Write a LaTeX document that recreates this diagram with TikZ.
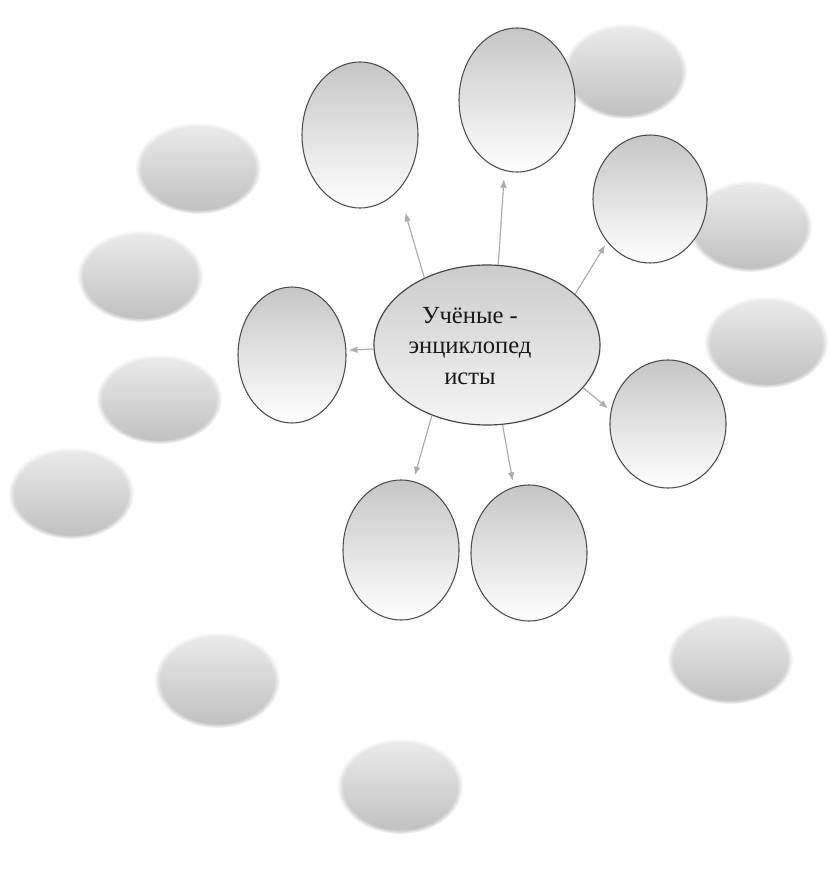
\documentclass[tikz,border=0pt]{standalone}
\usepackage{fontspec}
\setmainfont{Liberation Serif}
\usepackage{tikz}
\usetikzlibrary{shapes.geometric,arrows.meta,fadings}
\tikzset{
hub/.style={ellipse,inner sep=0pt,draw=gray!55!black,line width=1pt,top color=gray!40,bottom color=gray!8},
bubble/.style={ellipse,inner sep=0pt,draw=gray!60!black,line width=0.9pt,top color=gray!45,bottom color=white},
blob/.style={ellipse,inner sep=0pt,top color=gray!15,bottom color=gray!50,path fading=circle with fuzzy edge 10 percent},
hubtext/.style={font=\fontsize{21}{26}\selectfont,align=center,text=black!90},
link/.style={-{Latex[length=2.6mm,width=2mm]},gray!65,line width=1pt}
}
\begin{document}
\begin{tikzpicture}[x=0.3mm,y=-0.3mm]
\useasboundingbox[fill=white] (0,0) rectangle (830,884);
% faded bubbles round the edge
\node[blob,minimum width=37.2mm,minimum height=28.8mm] (b1) at (625,71) {};
\node[blob,minimum width=37.8mm,minimum height=27.6mm] (b2) at (198,168) {};
\node[blob,minimum width=37.8mm,minimum height=27.6mm] (b3) at (140,276) {};
\node[blob,minimum width=37.8mm,minimum height=27mm] (b4) at (159,399) {};
\node[blob,minimum width=37.8mm,minimum height=27.6mm] (b5) at (71,493) {};
\node[blob,minimum width=37.2mm,minimum height=27.6mm] (b6) at (750,226) {};
\node[blob,minimum width=37.2mm,minimum height=27.6mm] (b7) at (766,342) {};
\node[blob,minimum width=37.8mm,minimum height=27mm] (b8) at (730,659) {};
\node[blob,minimum width=37.8mm,minimum height=28.8mm] (b9) at (217,680) {};
\node[blob,minimum width=37.8mm,minimum height=28.8mm] (b10) at (400,786) {};
% outlined bubbles
\node[bubble,minimum width=34.8mm,minimum height=43.8mm] (n1) at (360,135) {};
\node[bubble,minimum width=34.8mm,minimum height=43.2mm] (n2) at (517,100) {};
\node[bubble,minimum width=34.2mm,minimum height=38.4mm] (n3) at (650,199) {};
\node[bubble,minimum width=32.4mm,minimum height=40.8mm] (n4) at (292,355) {};
\node[bubble,minimum width=34.8mm,minimum height=38.4mm] (n5) at (668,424) {};
\node[bubble,minimum width=34.8mm,minimum height=42mm] (n6) at (401,550) {};
\node[bubble,minimum width=34.8mm,minimum height=40.8mm] (n7) at (529,553) {};
% centre
\node[hub,minimum width=67.8mm,minimum height=48mm] (hub) at (487,345) {};
\node[hubtext] (title) at (470,346) {Учёные -\\энциклопед\\исты};
\draw[link,shorten >=20pt] (hub.133) -- (n1.-55);
\draw[link,shorten >=7pt] (hub.82) -- (n2.-100);
\draw[link,shorten >=3pt] (hub.30) -- (n3.225);
\draw[link,shorten >=2pt] (hub.182) -- (n4.5);
\draw[link,shorten >=3pt] (hub.336) -- (n5.167);
\draw[link,shorten >=5pt] (hub.232) -- (n6.80);
\draw[link,shorten >=5pt] (hub.281) -- (n7.103);
\end{tikzpicture}
\end{document}
